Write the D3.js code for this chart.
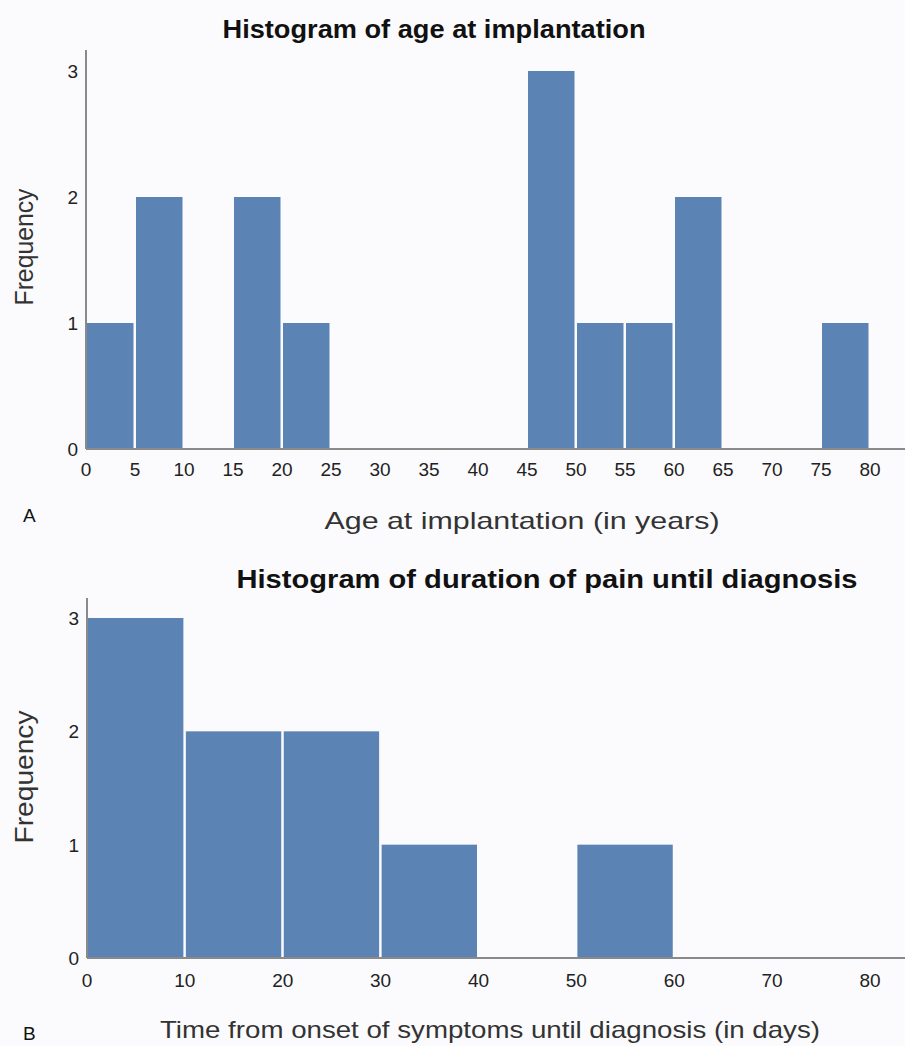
<!DOCTYPE html>
<html>
<head>
<meta charset="utf-8">
<script src="https://cdn.jsdelivr.net/npm/d3@7"></script>
<style>
  body { margin: 0; background: #fbfbfd; }
  svg { display: block; font-family: Arial, "Liberation Sans", sans-serif; }
</style>
</head>
<body>
<div class="chart"></div>
<script>
// panel A: age at implantation, bins of 5 years
const ageEdges = [0, 5, 10, 15, 20, 25, 30, 35, 40, 45, 50, 55, 60, 65, 70, 75, 80];
const ageCounts = [1, 2, 0, 2, 1, 0, 0, 0, 0, 3, 1, 1, 2, 0, 0, 1];
const ageTicks = [0, 5, 10, 15, 20, 25, 30, 35, 40, 45, 50, 55, 60, 65, 70, 75, 80];

// panel B: duration of pain, bins of 10 days
const painEdges = [0, 10, 20, 30, 40, 50, 60, 70, 80];
const painCounts = [3, 2, 2, 1, 0, 1, 0, 0];
const painTicks = [0, 10, 20, 30, 40, 50, 60, 70, 80];

const freqTicks = [0, 1, 2, 3];

const width = 905, height = 1046;
const svg = d3.select('.chart')
  .append('svg')
  .attr('width', width)
  .attr('height', height);

function histogram(opts) {
  const g = svg.append('g');
  const x = d3.scaleLinear().domain([0, 80]).range([opts.left, opts.right80]);
  const y = d3.scaleLinear().domain([0, 3]).range([opts.base, opts.top3]);

  const bins = opts.counts.map((c, i) => ({x0: opts.edges[i], x1: opts.edges[i + 1], n: c}))
    .filter(d => d.n > 0);

  g.selectAll('rect.bar')
    .data(bins)
    .enter()
    .append('rect')
    .attr('class', 'bar')
    .attr('x', d => x(d.x0) + 1)
    .attr('width', d => x(d.x1) - x(d.x0) - 2.5)
    .attr('y', d => y(d.n))
    .attr('height', d => y(0) - y(d.n))
    .attr('fill', '#5b84b5');

  // axis lines, the x one runs to the edge
  g.append('line')
    .attr('x1', opts.left).attr('x2', width)
    .attr('y1', opts.base).attr('y2', opts.base)
    .attr('stroke', '#8a8a8a').attr('stroke-width', 2);
  g.append('line')
    .attr('x1', opts.left).attr('x2', opts.left)
    .attr('y1', opts.axisTop).attr('y2', opts.base)
    .attr('stroke', '#8a8a8a').attr('stroke-width', 2);

  g.selectAll('text.xt')
    .data(opts.ticks)
    .enter()
    .append('text')
    .attr('class', 'xt')
    .attr('x', d => x(d))
    .attr('y', opts.base + opts.tickDy)
    .attr('text-anchor', 'middle')
    .attr('font-size', 19)
    .attr('fill', '#222')
    .text(d => d);

  g.selectAll('text.yt')
    .data(freqTicks)
    .enter()
    .append('text')
    .attr('class', 'yt')
    .attr('x', opts.left - 8)
    .attr('y', d => y(d) + 7)
    .attr('text-anchor', 'end')
    .attr('font-size', 19)
    .attr('fill', '#222')
    .text(d => d);

  g.append('text')
    .attr('x', opts.titleX)
    .attr('y', opts.titleY)
    .attr('text-anchor', 'middle')
    .attr('font-size', 26)
    .attr('font-weight', 'bold')
    .attr('fill', '#111')
    .attr('textLength', opts.titleLen)
    .attr('lengthAdjust', 'spacingAndGlyphs')
    .text(opts.title);

  g.append('text')
    .attr('transform', `translate(33, ${opts.freqY}) rotate(-90)`)
    .attr('text-anchor', 'middle')
    .attr('font-size', 26)
    .attr('fill', '#333')
    .attr('textLength', opts.freqLen)
    .attr('lengthAdjust', 'spacingAndGlyphs')
    .text('Frequency');

  g.append('text')
    .attr('x', opts.xlabX)
    .attr('y', opts.xlabY)
    .attr('text-anchor', 'middle')
    .attr('font-size', 24)
    .attr('fill', '#333')
    .attr('textLength', opts.xlabLen)
    .attr('lengthAdjust', 'spacingAndGlyphs')
    .text(opts.xlab);

  g.append('text')
    .attr('x', 23)
    .attr('y', opts.letterY)
    .attr('font-size', 19)
    .attr('fill', '#111')
    .text(opts.letter);
}

histogram({
  edges: ageEdges, counts: ageCounts, ticks: ageTicks,
  left: 86, right80: 870, base: 449, top3: 71, axisTop: 50, tickDy: 27,
  title: 'Histogram of age at implantation', titleX: 434, titleY: 38, titleLen: 423,
  freqY: 247, freqLen: 117,
  xlab: 'Age at implantation (in years)', xlabX: 522, xlabY: 529, xlabLen: 395,
  letter: 'A', letterY: 522
});

histogram({
  edges: painEdges, counts: painCounts, ticks: painTicks,
  left: 87, right80: 870, base: 958, top3: 618, axisTop: 598, tickDy: 29,
  title: 'Histogram of duration of pain until diagnosis', titleX: 547, titleY: 588, titleLen: 621,
  freqY: 777, freqLen: 133,
  xlab: 'Time from onset of symptoms until diagnosis (in days)', xlabX: 490, xlabY: 1038, xlabLen: 660,
  letter: 'B', letterY: 1040
});
</script>
</body>
</html>
